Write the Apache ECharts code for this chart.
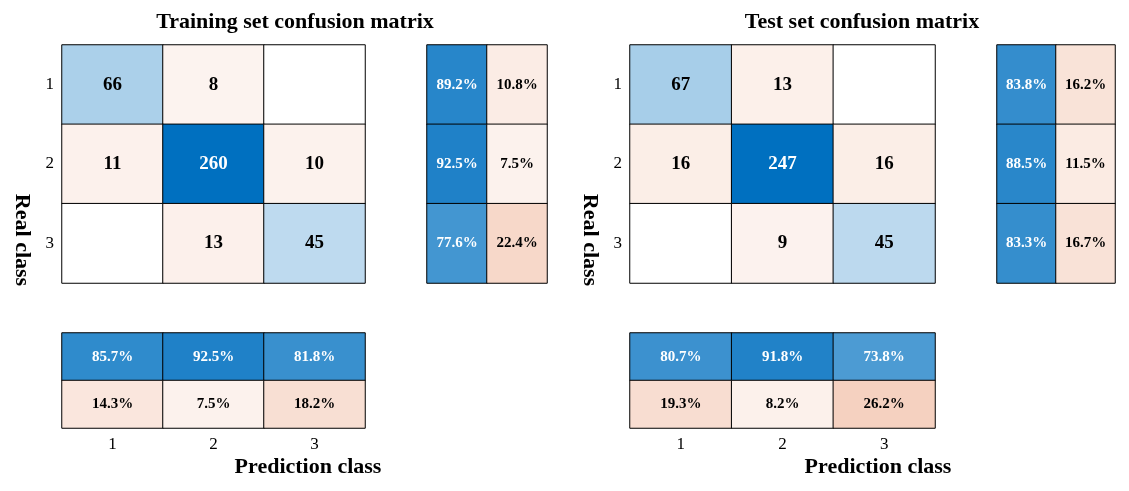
<!DOCTYPE html>
<html><head><meta charset="utf-8">
<script src="https://cdn.jsdelivr.net/npm/echarts@6/dist/echarts.min.js"></script>
<style>html,body{margin:0;background:#fff}#c{width:1129px;height:491px}</style>
</head><body><div id="c"></div>
<script>
const classes = ['1','2','3'];
const trainMatrix = [[66,8,0],[11,260,10],[0,13,45]];
const testMatrix = [[67,13,0],[16,247,16],[0,9,45]];
const trainRowPct = [[89.2,10.8],[92.5,7.5],[77.6,22.4]];
const testRowPct = [[83.8,16.2],[88.5,11.5],[83.3,16.7]];
const trainColPct = [[85.7,92.5,81.8],[14.3,7.5,18.2]];
const testColPct = [[80.7,91.8,73.8],[19.3,8.2,26.2]];

const FONT = 'Liberation Serif';
function mix(rgb, a){ a=Math.max(0,Math.min(1,a)); return 'rgb('+rgb.map(c=>Math.round(255+(c-255)*a)).join(',')+')'; }
const BLUE=[0,112,192], ORANGE=[226,120,70];
function cell(x,y,v,good,alpha,txt){
  const col = v===0 ? '#fff' : mix(good?BLUE:ORANGE, alpha);
  return {value:[x,y,v], itemStyle:{color:col}, label:{show:v!==0, formatter:txt, color: (good&&alpha>0.55)?'#fff':'#000'}};
}
function mainData(m){
  const mx=Math.max(...m.flat()); const out=[];
  m.forEach((row,r)=>row.forEach((v,c)=>{
    const good=r===c; const a= good? 0.1+0.9*v/mx : 0.05+1.2*v/mx;
    out.push(cell(c,r,v,good,a,String(v)));
  })); return out;
}
function rowData(m){ const out=[]; m.forEach((p,r)=>{ out.push(cell(0,r,p[0],true,p[0]/100*0.95,p[0].toFixed(1)+'%')); out.push(cell(1,r,p[1],false,p[1]/100*1.3,p[1].toFixed(1)+'%')); }); return out; }
function colData(m){ const out=[]; m[0].forEach((v,c)=>out.push(cell(c,0,v,true,v/100*0.95,v.toFixed(1)+'%'))); m[1].forEach((v,c)=>out.push(cell(c,1,v,false,v/100*1.3,v.toFixed(1)+'%'))); return out; }

const grids=[
 {left:62,top:45,width:303,height:238},{left:427,top:45,width:120,height:238},{left:62,top:333,width:303,height:95},
 {left:630,top:45,width:305,height:238},{left:997,top:45,width:118,height:238},{left:630,top:333,width:305,height:95}
];
const lab={fontFamily:FONT,fontSize:17,color:'#000'};
const hid={show:false};
function cat(data,gi,show,inv){return {type:'category',data,gridIndex:gi,inverse:!!inv,axisLine:hid,axisTick:hid,axisLabel:show?Object.assign({margin:8},lab):hid,splitLine:hid};}
const xAxis=[],yAxis=[];
[0,3].forEach(b=>{
 xAxis.push(cat(classes,b,false)); yAxis.push(cat(classes,b,true,true));
 xAxis.push(cat(['a','b'],b+1,false)); yAxis.push(cat(classes,b+1,false,true));
 xAxis.push(cat(classes,b+2,true)); yAxis.push(cat(['a','b'],b+2,false,true));
});
const datasets=[mainData(trainMatrix),rowData(trainRowPct),colData(trainColPct),mainData(testMatrix),rowData(testRowPct),colData(testColPct)];
const series=datasets.map((d,i)=>({type:'heatmap',xAxisIndex:i,yAxisIndex:i,data:d,
 itemStyle:{borderColor:'#000',borderWidth:1},
 label:{show:true,fontFamily:FONT,fontWeight:'bold',fontSize:i%3===0?19:15},
 emphasis:{disabled:true}}));
const tstyle={fontFamily:FONT,fontWeight:'bold',fontSize:22,fill:'#000'};
const chart=echarts.init(document.getElementById('c'));
chart.setOption({animation:false,grid:grids,xAxis,yAxis,series,
 graphic:[
  {type:'text',x:295,y:22,style:Object.assign({text:'Training set confusion matrix',align:'center',verticalAlign:'middle'},tstyle)},
  {type:'text',x:862,y:22,style:Object.assign({text:'Test set confusion matrix',align:'center',verticalAlign:'middle'},tstyle)},
  {type:'text',x:22,y:240,rotation:-Math.PI/2,style:Object.assign({text:'Real class',align:'center',verticalAlign:'middle'},tstyle)},
  {type:'text',x:590,y:240,rotation:-Math.PI/2,style:Object.assign({text:'Real class',align:'center',verticalAlign:'middle'},tstyle)},
  {type:'text',x:308,y:467,style:Object.assign({text:'Prediction class',align:'center',verticalAlign:'middle'},tstyle)},
  {type:'text',x:878,y:467,style:Object.assign({text:'Prediction class',align:'center',verticalAlign:'middle'},tstyle)}
 ]});
</script></body></html>
